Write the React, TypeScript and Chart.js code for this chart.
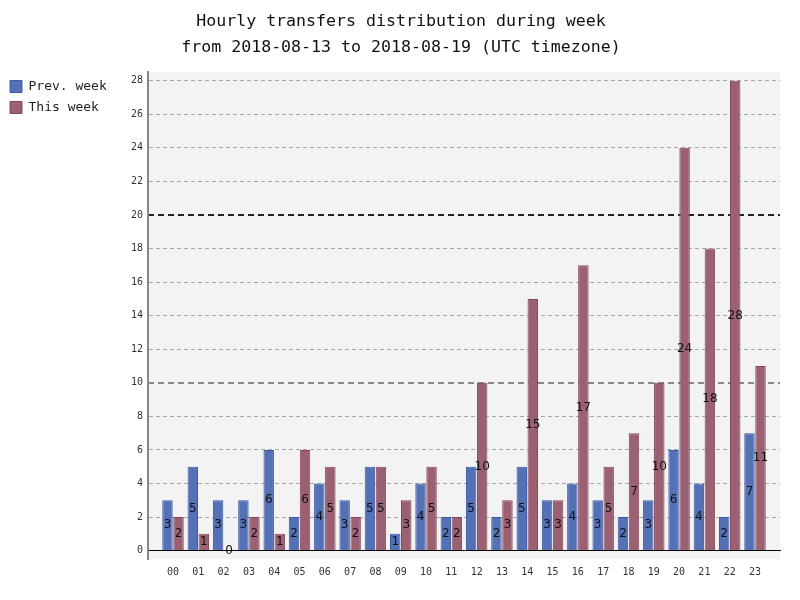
import React, { useEffect, useRef } from "react";
import { Chart, registerables, Plugin } from "chart.js";

Chart.register(...registerables);

const titleLines = [
  "Hourly transfers distribution during week",
  "from 2018-08-13 to 2018-08-19 (UTC timezone)",
];
const hours = [
  "00", "01", "02", "03", "04", "05", "06", "07", "08", "09", "10", "11",
  "12", "13", "14", "15", "16", "17", "18", "19", "20", "21", "22", "23",
];
const prevWeek = [3, 5, 3, 3, 6, 2, 4, 3, 5, 1, 4, 2, 5, 2, 5, 3, 4, 3, 2, 3, 6, 4, 2, 7];
const thisWeek = [2, 1, 0, 2, 1, 6, 5, 2, 5, 3, 5, 2, 10, 3, 15, 3, 17, 5, 7, 10, 24, 18, 28, 11];
const yTicks = [0, 2, 4, 6, 8, 10, 12, 14, 16, 18, 20, 22, 24, 26, 28];
const majorTicks = [10, 20];

const MONO = "'DejaVu Sans Mono', monospace";

// plot background, a bit larger than the bars' range
const plotBg: Plugin<"bar"> = {
  id: "plotBg",
  beforeDraw(chart) {
    const { ctx, chartArea } = chart;
    ctx.save();
    ctx.fillStyle = "#f3f3f3";
    ctx.fillRect(chartArea.left, chartArea.top, chartArea.width, chartArea.height);
    ctx.restore();
  },
};

// value printed in the middle of each bar
const barValues: Plugin<"bar"> = {
  id: "barValues",
  afterDatasetsDraw(chart) {
    const { ctx } = chart;
    ctx.save();
    ctx.font = "12px 'DejaVu Sans', sans-serif";
    ctx.fillStyle = "#111";
    ctx.textAlign = "center";
    ctx.textBaseline = "middle";
    chart.data.datasets.forEach((ds, di) => {
      const meta = chart.getDatasetMeta(di);
      meta.data.forEach((el: any, i) => {
        const v = (ds.data[i] as any).y;
        ctx.fillText(String(v), el.x, (el.y + el.base) / 2);
      });
    });
    ctx.restore();
  },
};

const App: React.FC = () => {
  const canvasRef = useRef<HTMLCanvasElement | null>(null);
  const chartRef = useRef<Chart | null>(null);

  useEffect(() => {
    if (!canvasRef.current) return;
    if (chartRef.current) chartRef.current.destroy();

    Chart.defaults.font.family = MONO;

    chartRef.current = new Chart(canvasRef.current, {
      type: "bar",
      data: {
        datasets: [
          {
            label: "Prev. week",
            data: prevWeek.map((v, i) => ({ x: i, y: v })),
            backgroundColor: "#5571b6",
            borderColor: "#3c5aa3",
            borderWidth: 1,
          },
          {
            label: "This week",
            data: thisWeek.map((v, i) => ({ x: i, y: v })),
            backgroundColor: "#9c6073",
            borderColor: "#82475b",
            borderWidth: 1,
          },
        ],
      },
      options: {
        responsive: false,
        animation: false,
        categoryPercentage: 0.87,
        barPercentage: 0.95,
        layout: { padding: { left: 2, right: 0, top: 0, bottom: 41 } },
        plugins: {
          tooltip: { enabled: false },
          title: {
            display: true,
            text: titleLines,
            color: "#111",
            font: { family: MONO, size: 16.6, weight: "normal", lineHeight: 1.566 },
            padding: { top: 9, bottom: 11 },
          },
          legend: {
            position: "left",
            align: "start",
            fullSize: false,
            labels: {
              boxWidth: 12,
              boxHeight: 12,
              padding: 8,
              color: "#222",
              font: { family: MONO, size: 13 },
            },
          },
        },
        scales: {
          x: {
            type: "linear",
            position: { y: 0 } as any,
            offset: false,
            min: -0.988,
            max: 23.988,
            afterBuildTicks: (axis: any) => {
              axis.ticks = hours.map((_, i) => ({ value: i }));
            },
            grid: { display: false, drawTicks: false, offset: false },
            border: { display: true, color: "#000", width: 1 },
            ticks: {
              padding: 16,
              color: "#333",
              font: { family: MONO, size: 10 },
              autoSkip: false,
              maxRotation: 0,
              callback: (v: any) => hours[v] ?? "",
            },
          },
          y: {
            type: "linear",
            position: "left",
            min: -0.5,
            max: 28.52,
            afterBuildTicks: (axis: any) => {
              axis.ticks = yTicks.map((v) => ({ value: v }));
            },
            afterFit: (scale: any) => {
              const lw = scale.chart.legend ? scale.chart.legend.width : 116;
              scale.width = 146 - lw;
            },
            grid: {
              drawTicks: false,
              lineWidth: 1,
              color: (c: any) =>
                c.tick && (c.tick.value === 0 || majorTicks.includes(c.tick.value))
                  ? "rgba(0,0,0,0)"
                  : "#a8a8a8",
            },
            border: { display: true, color: "#888", width: 2, dash: [4, 3] as any },
            ticks: {
              padding: 5,
              color: "#333",
              font: { family: MONO, size: 10 },
            },
          },
          y2: {
            type: "linear",
            position: "right",
            min: -0.5,
            max: 28.52,
            afterBuildTicks: (axis: any) => {
              axis.ticks = majorTicks.map((v) => ({ value: v }));
            },
            afterFit: (scale: any) => {
              scale.width = 20;
            },
            grid: {
              drawTicks: false,
              lineWidth: 2,
              color: (c: any) => (c.tick && c.tick.value === 20 ? "#222" : "#888"),
            },
            border: { display: false, dash: [6, 4] as any },
            ticks: { display: false },
          },
        },
      },
      plugins: [plotBg, barValues],
    });

    return () => {
      if (chartRef.current) {
        chartRef.current.destroy();
        chartRef.current = null;
      }
    };
  }, []);

  return (
    <div style={{ position: "absolute", left: 0, top: 0, width: 800, height: 600, background: "#fff" }}>
      <canvas ref={canvasRef} width={800} height={600}></canvas>
    </div>
  );
};

export default App;
